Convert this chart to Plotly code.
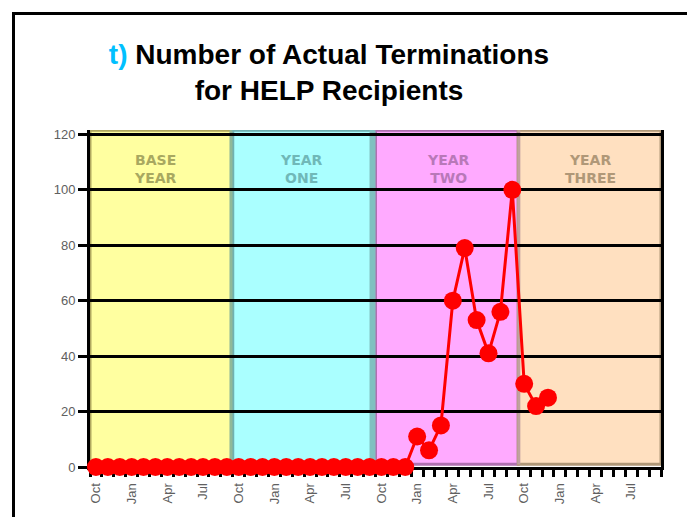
import plotly.graph_objects as go

# ---- data ----
tick_month_idx = [0, 3, 6, 9, 12, 15, 18, 21, 24, 27, 30, 33, 36, 39, 42, 45]
tick_text = ["Oct", "Jan", "Apr", "Jul"] * 4
terminations = [0] * 27 + [11, 6, 15, 60, 79, 53, 41, 56, 100, 30, 22, 25]
y_ticks = [0, 20, 40, 60, 80, 100, 120]

band_names = ["BASE<br>YEAR", "YEAR<br>ONE", "YEAR<br>TWO", "YEAR<br>THREE"]
band_start = [0, 12, 24, 36]
band_end = [11, 23, 35, 47]
band_fill = ["#FFFFA0", "#AAFFFF", "#FFAAFF", "#FFE0C0"]
band_edge = ["#B0A860", "#70B0B0", "#B070B0", "#B09878"]
band_text = ["#A8A860", "#70B8B8", "#B878B8", "#B09878"]
label_x = [5.0, 17.3, 29.6, 41.6]

x_idx = list(range(len(terminations)))

# page offset (body margin) compensation
OFF = 8
W, H = 695 - OFF, 517 - OFF
PL, PR, PT, PB = 90, 661, 130, 467  # plot area in page pixels

fig = go.Figure()

shapes = []
for s, e, f, c in zip(band_start, band_end, band_fill, band_edge):
    shapes.append(dict(type="rect", xref="x", yref="y", x0=s - 0.5, x1=e + 0.5, y0=1.0, y1=121.5,
                       fillcolor=f, line=dict(color=c, width=3), layer="below"))
sep_cols = ["#90B898", "#80C0C0", "#C0A0A0"]
sep_w = [3, 6, 3]
sep_off = [-0.15, -0.25, 0.05]
for i, (c, w, o) in enumerate(zip(sep_cols, sep_w, sep_off)):
    xb = band_end[i] + 0.5 + o
    shapes.append(dict(type="line", xref="x", yref="y", x0=xb, x1=xb, y0=1.0, y1=121.5,
                       line=dict(color=c, width=w), layer="below"))
pw, ph = PR - PL, PB - PT
shapes.append(dict(type="rect", xref="paper", yref="paper",
                   x0=(13.5 - PL) / pw, x1=(692.5 - PL) / pw,
                   y0=-0.3, y1=(PB - 13.5) / ph,
                   line=dict(color="black", width=3), fillcolor="rgba(0,0,0,0)"))

fig.add_trace(go.Scatter(
    x=x_idx, y=terminations, mode="lines+markers",
    line=dict(color="#FF0000", width=3),
    marker=dict(color="#FF0000", size=18, symbol="circle"),
    cliponaxis=False, showlegend=False, hoverinfo="skip"))

annotations = []
for name, lx, tc in zip(band_names, label_x, band_text):
    annotations.append(dict(x=lx, y=107.5, xref="x", yref="y", text=name, showarrow=False,
                            font=dict(family="DejaVu Sans", size=14, color=tc, weight="bold")))

fig.update_layout(
    width=W, height=H,
    margin=dict(l=PL - OFF, r=695 - PR, t=PT - OFF, b=517 - PB),
    paper_bgcolor="white", plot_bgcolor="white",
    shapes=shapes, annotations=annotations,
    title=dict(
        text="<span style='color:#00C0FF'>t)</span> Number of Actual Terminations<br>for HELP Recipients",
        x=(329 - OFF) / W, xanchor="center", xref="container",
        y=1 - (64 - OFF) / H, yanchor="top", yref="container",
        font=dict(family="Liberation Sans", size=28, color="black", weight="bold")),
    xaxis=dict(
        range=[-0.5, 47.5], tickmode="array", tickvals=tick_month_idx, ticktext=tick_text,
        tickangle=-90, showgrid=False, zeroline=False, layer="below traces",
        showline=True, linecolor="black", linewidth=3,
        ticks="outside", ticklen=8, tickcolor="rgba(0,0,0,0)",
        tickfont=dict(family="Liberation Sans", size=13, color="#606060"),
        minor=dict(tickmode="array", tickvals=[i + 0.5 for i in range(-1, 48)],
                   ticks="outside", ticklen=7, tickwidth=3, tickcolor="black", showgrid=False),
    ),
    yaxis=dict(
        range=[0, 121.6], tickmode="array", tickvals=y_ticks,
        showgrid=True, gridcolor="black", gridwidth=3, zeroline=False, layer="below traces",
        showline=True, linecolor="black", linewidth=3, mirror=True,
        ticks="outside", ticklen=9, tickwidth=3, tickcolor="black",
        tickfont=dict(family="Liberation Sans", size=13, color="#606060"),
    ),
)

fig.write_html("out.html")
